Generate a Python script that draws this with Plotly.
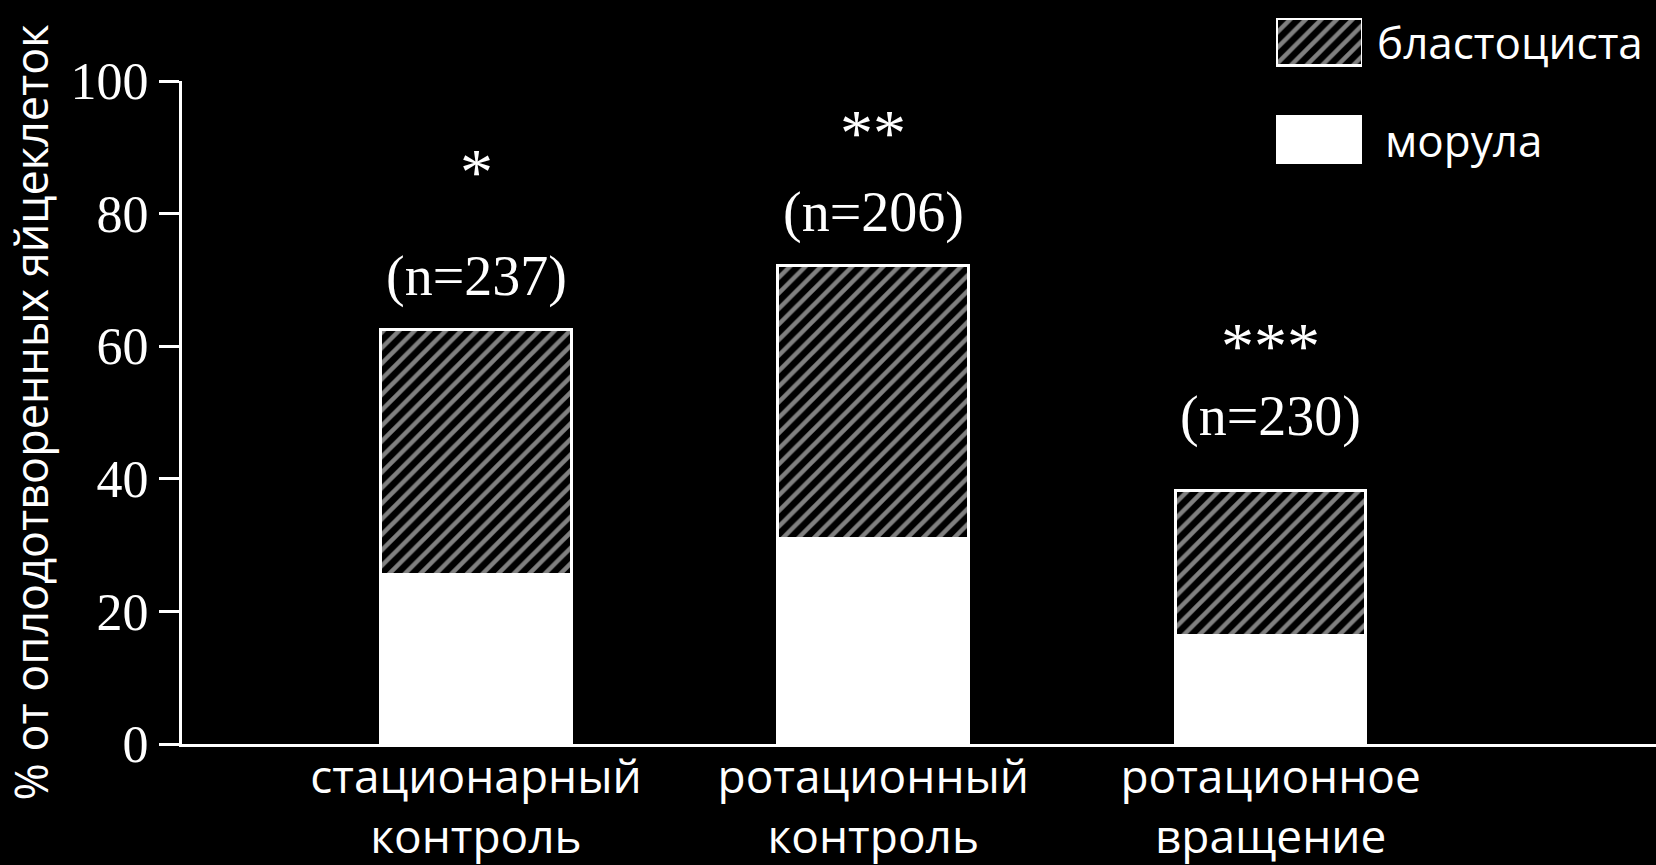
import plotly.graph_objects as go

categories = ["стационарный<br>контроль", "ротационный<br>контроль", "ротационное<br>вращение"]
morula = [25.6, 31.0, 16.3]
blastocyst = [36.9, 41.2, 21.9]
n_labels = ["(n=237)", "(n=206)", "(n=230)"]
sig_labels = ["*", "**", "***"]
n_label_y = [70.5, 80.2, 49.4]
sig_label_y = [86.4, 92.3, 60.1]
series_names = ["бластоциста", "морула"]
y_ticks = [0, 20, 40, 60, 80, 100]

W, H = 1656, 865
ML, MR, MT, MB = 182, 0, 10, 121
pw, ph = W - ML - MR, H - MT - MB

def px_x(x):
    return (x - ML) / pw

def px_y(y):
    return (H - MB - y) / ph

hatch = dict(shape="/", fgcolor="white", bgcolor="black", size=11, solidity=0.4)

fig = go.Figure()
fig.add_trace(go.Bar(x=categories, y=morula, name=series_names[1],
                     marker=dict(color="white", line=dict(color="white", width=3)),
                     width=0.48, showlegend=False))
fig.add_trace(go.Bar(x=categories, y=blastocyst, name=series_names[0],
                     marker=dict(color="black", pattern=hatch, line=dict(color="white", width=3)),
                     width=0.48, showlegend=False))

# legend swatches drawn as bars on a small helper axis
fig.add_trace(go.Bar(x=[1], y=[1], orientation="h", xaxis="x2", yaxis="y2", width=0.48,
                     marker=dict(color="black", pattern=hatch, line=dict(color="white", width=3)),
                     showlegend=False, hoverinfo="skip"))
fig.add_trace(go.Bar(x=[1], y=[0], orientation="h", xaxis="x2", yaxis="y2", width=0.48,
                     marker=dict(color="white", line=dict(color="white", width=3)),
                     showlegend=False, hoverinfo="skip"))

annotations = []
for i, c in enumerate(categories):
    annotations.append(dict(x=c, y=n_label_y[i], xref="x", yref="y", text=n_labels[i],
                            showarrow=False, font=dict(family="Liberation Serif", size=56, color="white"),
                            xanchor="center", yanchor="middle"))
    annotations.append(dict(x=c, y=sig_label_y[i], xref="x", yref="y", text=sig_labels[i],
                            showarrow=False, font=dict(family="Liberation Serif", size=66, color="white"),
                            xanchor="center", yanchor="middle"))
annotations.append(dict(x=px_x(1375), y=px_y(42), xref="paper", yref="paper", text=series_names[0],
                        showarrow=False, xanchor="left", yanchor="middle",
                        font=dict(family="Open Sans", size=44, color="white")))
annotations.append(dict(x=px_x(1383), y=px_y(140), xref="paper", yref="paper", text=series_names[1],
                        showarrow=False, xanchor="left", yanchor="middle",
                        font=dict(family="Open Sans", size=44, color="white")))

fig.update_layout(
    width=W, height=H,
    margin=dict(l=ML, r=MR, t=MT, b=MB),
    paper_bgcolor="black", plot_bgcolor="black",
    barmode="stack",
    annotations=annotations,
    xaxis=dict(type="category", range=[-0.74, 2.97], showline=True, linecolor="white", linewidth=3,
               ticks="", showgrid=False, zeroline=False, automargin=False, ticklabelstandoff=-9,
               tickfont=dict(family="Open Sans", size=46, color="white")),
    yaxis=dict(range=[0, 100], domain=[0, px_y(81)], showline=True, linecolor="white", linewidth=3,
               ticks="outside", ticklen=20, tickwidth=3, tickcolor="white",
               tickvals=y_ticks, showgrid=False, zeroline=False, automargin=False,
               tickfont=dict(family="Liberation Serif", size=52, color="white"),
               title=dict(text="% от оплодотворенных яйцеклеток", standoff=8,
                          font=dict(family="Open Sans", size=45, color="white"))),
    xaxis2=dict(domain=[px_x(1276), px_x(1362)], range=[0, 1], visible=False, anchor="y2"),
    yaxis2=dict(domain=[px_y(164), px_y(18)], range=[-0.241, 1.241], visible=False, anchor="x2"),
)

fig.write_html("out.html", config={"displayModeBar": False},
               post_script="document.body.style.margin='0';document.body.style.background='black';")
